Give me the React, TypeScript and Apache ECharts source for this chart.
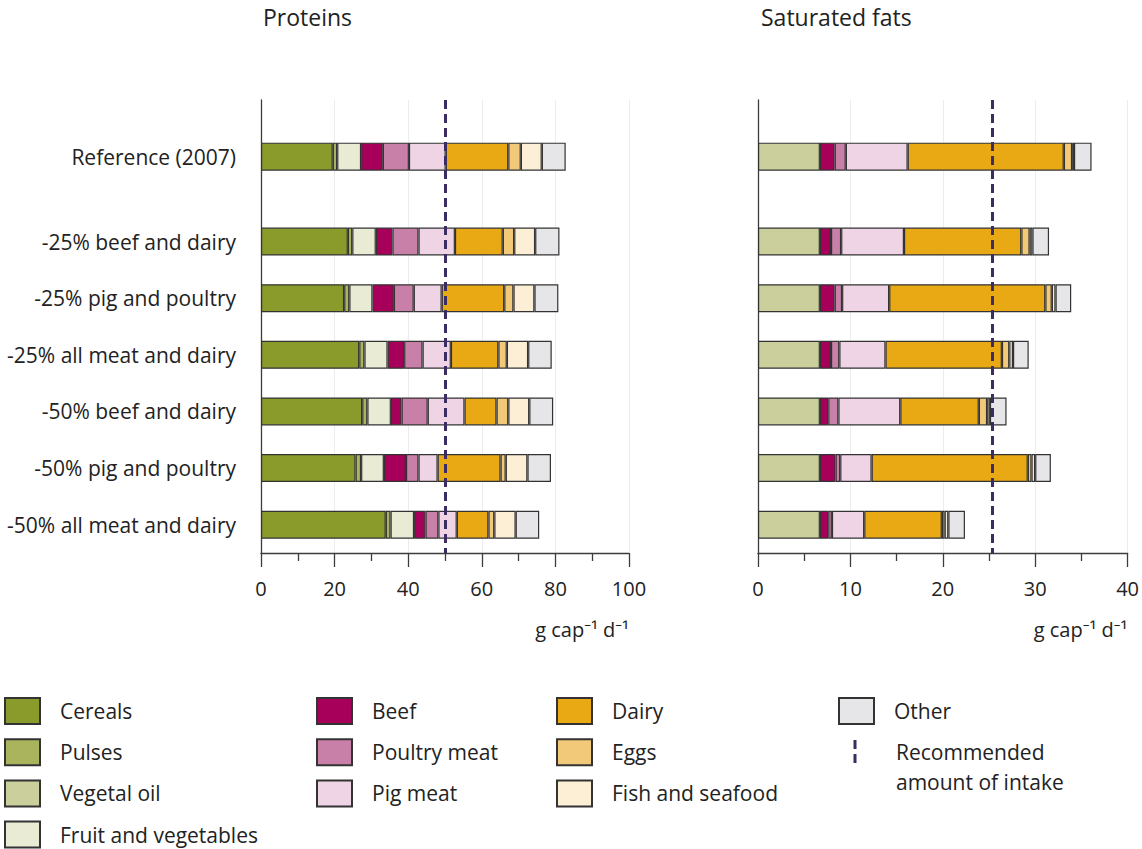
import React, { useEffect, useRef } from "react";
import * as echarts from "echarts";

// Scenarios, top to bottom
const scenarios = [
  "Reference (2007)",
  "-25% beef and dairy",
  "-25% pig and poultry",
  "-25% all meat and dairy",
  "-50% beef and dairy",
  "-50% pig and poultry",
  "-50% all meat and dairy",
];

// Food groups (stack order, left to right)
const foodGroups = [
  "Cereals",
  "Pulses",
  "Vegetal oil",
  "Fruit and vegetables",
  "Beef",
  "Poultry meat",
  "Pig meat",
  "Dairy",
  "Eggs",
  "Fish and seafood",
  "Other",
];

const groupColors = [
  "#8a9a2b",
  "#a9b45c",
  "#cacf9c",
  "#e9ebd4",
  "#a6005b",
  "#c980a8",
  "#efd4e6",
  "#e8a915",
  "#f2c978",
  "#fcefd6",
  "#e6e6e8",
];

// Protein intake, g cap-1 d-1
const proteinCereals = [19.5, 23.6, 22.6, 26.7, 27.5, 25.7, 33.9];
const proteinPulses = [1.2, 1.2, 1.4, 1.4, 1.4, 1.5, 1.3];
const proteinVegetalOil = [0, 0, 0, 0, 0, 0, 0];
const proteinFruitVeg = [6.5, 6.4, 6.3, 6.3, 6.4, 6.2, 6.4];
const proteinBeef = [5.9, 4.5, 5.8, 4.5, 2.9, 6.0, 3.1];
const proteinPoultry = [7.1, 7.1, 5.4, 5.0, 7.1, 3.4, 3.5];
const proteinPig = [10.0, 9.9, 7.6, 7.7, 10.0, 5.2, 5.0];
const proteinDairy = [17.0, 13.0, 17.0, 12.9, 8.7, 17.1, 8.6];
const proteinEggs = [3.4, 3.1, 2.5, 2.3, 3.2, 1.4, 1.6];
const proteinFish = [5.7, 5.7, 5.7, 5.8, 5.7, 5.9, 5.8];
const proteinOther = [6.5, 6.6, 6.5, 6.4, 6.5, 6.4, 6.4];

// Saturated fat intake, g cap-1 d-1
const fatCereals = [0, 0, 0, 0, 0, 0, 0];
const fatPulses = [0, 0, 0, 0, 0, 0, 0];
const fatVegetalOil = [6.7, 6.7, 6.7, 6.7, 6.7, 6.7, 6.7];
const fatFruitVeg = [0, 0, 0, 0, 0, 0, 0];
const fatBeef = [1.6, 1.2, 1.6, 1.2, 0.9, 1.7, 0.9];
const fatPoultry = [1.2, 1.1, 0.8, 0.9, 1.1, 0.5, 0.4];
const fatPig = [6.7, 6.8, 5.1, 5.0, 6.7, 3.4, 3.5];
const fatDairy = [16.9, 12.7, 16.9, 12.6, 8.5, 16.9, 8.4];
const fatEggs = [0.9, 0.9, 0.7, 0.8, 0.9, 0.4, 0.3];
const fatFish = [0.2, 0.3, 0.4, 0.4, 0.3, 0.4, 0.4];
const fatOther = [1.9, 1.8, 1.7, 1.7, 1.8, 1.7, 1.8];

// Recommended amount of intake: proteins, saturated fats
const recommendedIntake = [50, 25.4];

const proteinTicks = [0, 20, 40, 60, 80, 100];
const fatTicks = [0, 10, 20, 30, 40];
const unitLabel = "g cap\u207B\u00B9 d\u207B\u00B9";

const proteinByGroup = [
  proteinCereals,
  proteinPulses,
  proteinVegetalOil,
  proteinFruitVeg,
  proteinBeef,
  proteinPoultry,
  proteinPig,
  proteinDairy,
  proteinEggs,
  proteinFish,
  proteinOther,
];
const fatByGroup = [
  fatCereals,
  fatPulses,
  fatVegetalOil,
  fatFruitVeg,
  fatBeef,
  fatPoultry,
  fatPig,
  fatDairy,
  fatEggs,
  fatFish,
  fatOther,
];

// Category rows: the reference row sits apart from the scenario rows
const rowSlots = [4, 10, 14, 18, 22, 26, 30];
const slotCount = 33;
const slotNames = Array.from({ length: slotCount }, (_, i) => {
  const r = rowSlots.indexOf(i);
  return r >= 0 ? scenarios[r] : `slot${i}`;
});

const FONT = "'Open Sans', 'Noto Sans', sans-serif";
const TEXT = "#222";
const AXIS = "#3c3c3c";
const DASH = "#3b2d63";

function toSlots(values: number[]) {
  const out: (number | null)[] = new Array(slotCount).fill(null);
  rowSlots.forEach((s, i) => {
    out[s] = values[i] > 0 ? values[i] : null;
  });
  return out;
}

function valueAxis(gridIndex: number, max: number, interval: number) {
  return {
    type: "value",
    gridIndex,
    min: 0,
    max,
    interval,
    axisLine: { show: true, lineStyle: { color: AXIS, width: 1.3 } },
    axisTick: { show: true, length: 14, lineStyle: { color: AXIS, width: 1.3 } },
    minorTick: { show: true, splitNumber: 2, length: 8, lineStyle: { color: AXIS, width: 1.3 } },
    splitLine: { show: true, lineStyle: { color: "#ececec", width: 1 } },
    axisLabel: { fontFamily: FONT, fontSize: 20, color: TEXT, margin: 25 },
    name: unitLabel,
    nameLocation: "end",
    nameGap: 0,
    nameTextStyle: {
      fontFamily: FONT,
      fontSize: 20,
      color: TEXT,
      align: "right",
      verticalAlign: "top",
      padding: [66, 0, 0, 0],
    },
  };
}

function categoryAxis(gridIndex: number, showLabels: boolean) {
  return {
    type: "category",
    gridIndex,
    data: slotNames,
    inverse: true,
    boundaryGap: false,
    axisLine: { show: true, lineStyle: { color: AXIS, width: 1.3 } },
    axisTick: { show: false },
    splitLine: { show: false },
    axisLabel: {
      show: showLabels,
      interval: 0,
      margin: 25,
      fontFamily: FONT,
      fontSize: 21,
      color: TEXT,
      formatter: (v: string) => (scenarios.includes(v) ? v : ""),
    },
  };
}

function legendColumn(names: string[], left: number) {
  return {
    orient: "vertical",
    left,
    top: 697,
    height: 170,
    padding: 0,
    itemWidth: 35,
    itemHeight: 26,
    itemGap: 13.2,
    icon: "rect",
    selectedMode: false,
    data: names,
    textStyle: {
      fontFamily: FONT,
      fontSize: 21,
      lineHeight: 26,
      color: TEXT,
      padding: [0, 0, 0, 15],
    },
  };
}

function buildOption() {
  const series: any[] = [];
  foodGroups.forEach((name, k) => {
    const style = {
      color: groupColors[k],
      borderColor: "#333",
      borderWidth: 1.2,
    };
    series.push({
      name,
      type: "bar",
      stack: "protein",
      xAxisIndex: 0,
      yAxisIndex: 0,
      barWidth: 28,
      itemStyle: style,
      data: toSlots(proteinByGroup[k]),
    });
    series.push({
      name,
      type: "bar",
      stack: "fat",
      xAxisIndex: 1,
      yAxisIndex: 1,
      barWidth: 28,
      itemStyle: style,
      data: toSlots(fatByGroup[k]),
    });
  });

  const markLineFor = (value: number) => ({
    silent: true,
    symbol: ["none", "none"],
    label: { show: false },
    lineStyle: { color: DASH, width: 3, type: [9, 5] },
    data: [{ xAxis: value }],
  });
  // Recommended intake lines ride on the last stacked series of each panel
  series[series.length - 2].markLine = markLineFor(recommendedIntake[0]);
  series[series.length - 1].markLine = markLineFor(recommendedIntake[1]);

  return {
    animation: false,
    backgroundColor: "#ffffff",
    title: [
      {
        text: "Proteins",
        left: 258,
        top: 0,
        textStyle: { fontFamily: FONT, fontSize: 23, fontWeight: "normal", color: TEXT },
      },
      {
        text: "Saturated fats",
        left: 756,
        top: 0,
        textStyle: { fontFamily: FONT, fontSize: 23, fontWeight: "normal", color: TEXT },
      },
    ],
    grid: [
      { left: 261, right: 1142 - 629, top: 100, bottom: 849 - 553 },
      { left: 758, right: 1142 - 1128, top: 100, bottom: 849 - 553 },
    ],
    xAxis: [
      valueAxis(0, proteinTicks[proteinTicks.length - 1], proteinTicks[1] - proteinTicks[0]),
      valueAxis(1, fatTicks[fatTicks.length - 1], fatTicks[1] - fatTicks[0]),
    ],
    yAxis: [categoryAxis(0, true), categoryAxis(1, false)],
    legend: [
      legendColumn(foodGroups.slice(0, 4), 4),
      legendColumn(foodGroups.slice(4, 7), 316),
      legendColumn(foodGroups.slice(7, 10), 556),
      legendColumn(foodGroups.slice(10), 838),
    ],
    graphic: [
      {
        type: "line",
        shape: { x1: 855, y1: 740, x2: 855, y2: 766 },
        style: { stroke: DASH, lineWidth: 3, lineDash: [9, 5] },
      },
      {
        type: "text",
        left: 896,
        top: 737,
        style: {
          text: "Recommended\namount of intake",
          fontFamily: FONT,
          fontSize: 21,
          lineHeight: 30,
          fill: TEXT,
        },
      },
    ],
    series,
  };
}

export default function App() {
  const ref = useRef<HTMLDivElement | null>(null);
  useEffect(() => {
    if (!ref.current) return;
    const chart = echarts.init(ref.current, null, { renderer: "svg" });
    chart.setOption(buildOption() as any);
    return () => chart.dispose();
  }, []);
  return (
    <div
      ref={ref}
      style={{ width: 1142, height: 849, position: "absolute", left: 0, top: 0 }}
    />
  );
}
